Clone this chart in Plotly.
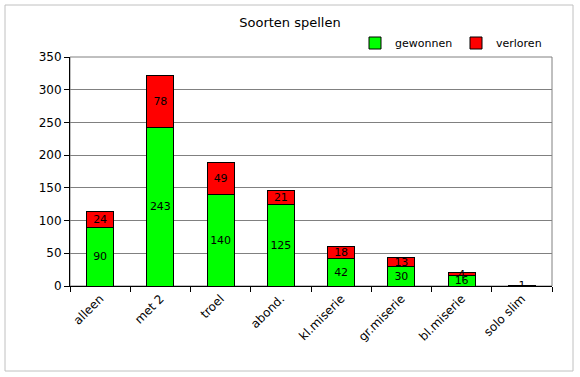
import plotly.graph_objects as go

categories = ["alleen", "met 2", "troel", "abond.", "kl.miserie", "gr.miserie", "bl.miserie", "solo slim"]
gewonnen = [90, 243, 140, 125, 42, 30, 16, 0]
verloren = [24, 78, 49, 21, 18, 13, 4, 1]
y_ticks = [0, 50, 100, 150, 200, 250, 300, 350]

FONT = "DejaVu Sans"
W, H = 580, 377
L, R, T, B = 70, 28, 57, 91
pw, ph = W - L - R, H - T - B

fig = go.Figure()
fig.add_trace(go.Bar(
    x=categories, y=gewonnen, name="gewonnen",
    marker=dict(color="#00FF00", line=dict(color="black", width=1)),
    text=[str(v) if v else "" for v in gewonnen], textposition="inside", textangle=0,
    insidetextanchor="middle", textfont=dict(family=FONT, size=11, color="black"),
    width=0.45,
))
fig.add_trace(go.Bar(
    x=categories, y=verloren, name="verloren",
    marker=dict(color="#FF0000", line=dict(color="black", width=1)),
    text=[str(v) if v else "" for v in verloren], textposition="inside", textangle=0,
    insidetextanchor="middle", textfont=dict(family=FONT, size=11, color="black"),
    width=0.45,
))

# outer chart border (in paper coords)
fig.add_shape(type="rect", xref="paper", yref="paper",
              x0=(5 - L) / pw, x1=(573 - L) / pw,
              y0=(H - B - 371) / ph, y1=(H - B - 5) / ph,
              line=dict(color="#C0C0C0", width=1), layer="below")
# plot area border
fig.add_shape(type="rect", xref="paper", yref="paper", x0=0, x1=1, y0=0, y1=1,
              line=dict(color="#808080", width=1), layer="below")

fig.update_layout(
    width=W, height=H,
    margin=dict(l=L, r=R, t=T, b=B, autoexpand=False),
    barmode="stack",
    paper_bgcolor="white", plot_bgcolor="white",
    font=dict(family=FONT, size=12, color="black"),
    title=dict(text="Soorten spellen", x=0.5, xanchor="center", y=1 - 22 / H, yanchor="middle",
               font=dict(family=FONT, size=13, color="black")),
    legend=dict(orientation="h", xref="container", yref="container",
                x=355 / W, xanchor="left", y=1 - 43 / H, yanchor="middle",
                font=dict(family=FONT, size=11), bgcolor="rgba(0,0,0,0)", itemwidth=30,
                entrywidth=56, entrywidthmode="pixels",
                traceorder="normal"),
    uniformtext=dict(mode="show", minsize=11),
    bargap=0.55,
)
fig.update_xaxes(
    type="category", showline=True, linecolor="black", linewidth=1, automargin=False,
    ticks="outside", tickson="boundaries", ticklen=5, tickcolor="black",
    tickangle=-45, tickfont=dict(family=FONT, size=12), showgrid=False,
)
fig.update_yaxes(
    range=[0, 350], tickvals=y_ticks, showline=True, linecolor="black", linewidth=1, automargin=False,
    ticks="outside", ticklen=5, tickcolor="black", showgrid=True, gridcolor="#808080",
    gridwidth=1, zeroline=False, tickfont=dict(family=FONT, size=12),
)

fig.write_html("out.html", config={"displayModeBar": False},
               post_script="document.body.style.margin='0';document.body.style.overflow='hidden';")
